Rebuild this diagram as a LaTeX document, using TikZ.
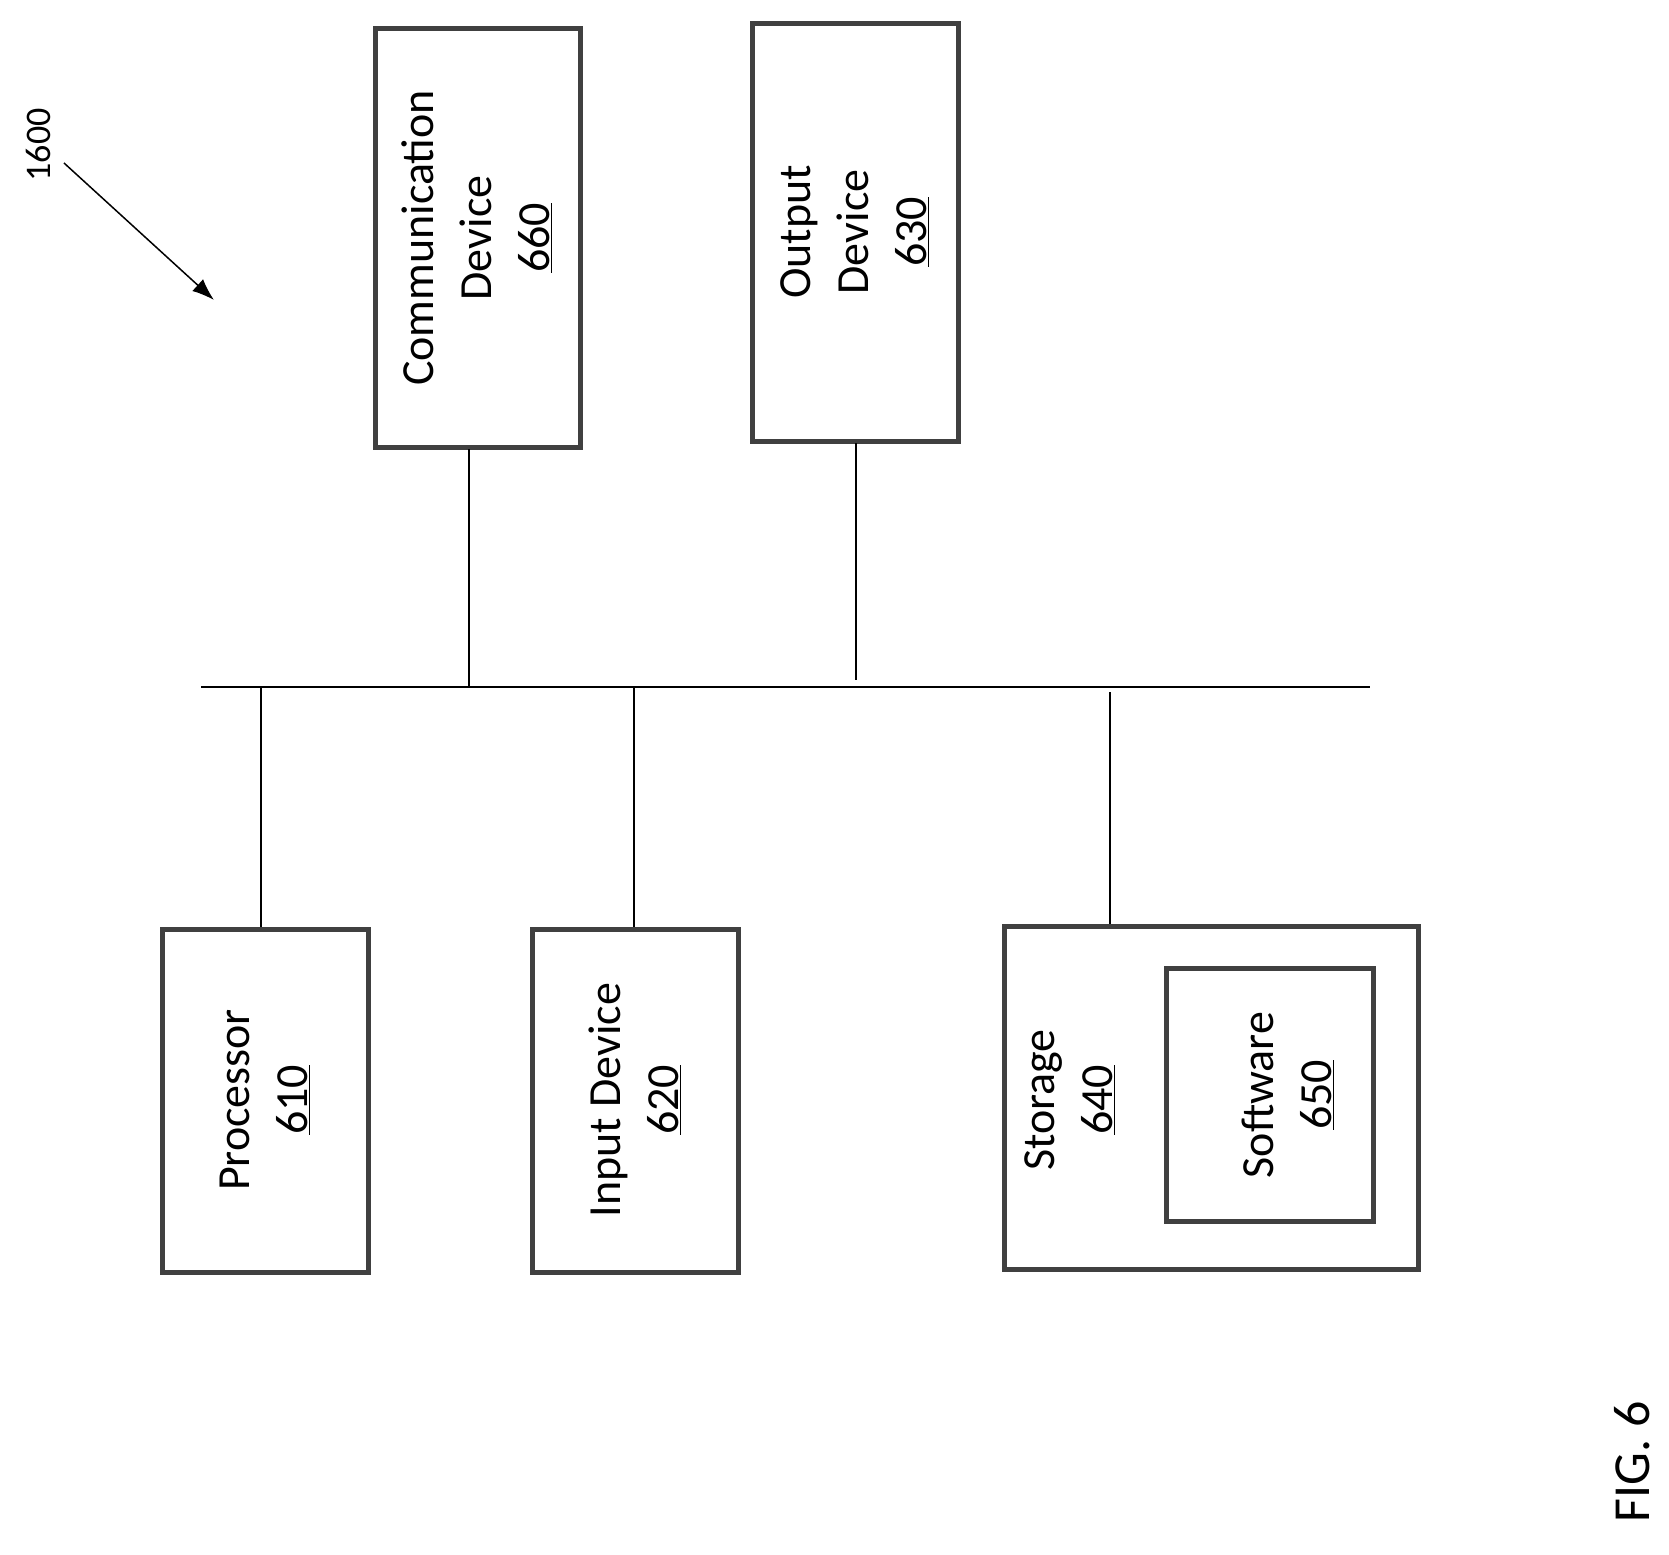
\documentclass[tikz,border=0pt]{standalone}
\usepackage{fontspec}
\setmainfont{Carlito}
\usetikzlibrary{arrows.meta}
\begin{document}
\begin{tikzpicture}[x=1pt,y=-1pt,
  box/.style={draw=black!75,line width=5pt,fill=white},
  lbl/.style={rotate=90,align=center,font=\fontsize{46}{58}\selectfont},
  conn/.style={line width=2pt}]
\useasboundingbox (0,0) rectangle (1669,1554);
\draw[box] (375,29) rectangle (580,447);
\draw[box] (752,24) rectangle (958,441);
\draw[box] (162,929) rectangle (368,1272);
\draw[box] (532,929) rectangle (738,1272);
\draw[box] (1004,926) rectangle (1418,1269);
\draw[box] (1166,968) rectangle (1373,1221);
\node[lbl] (comm) at (477,238) {Communication\\Device\\\underline{660}};
\node[lbl] (out) at (855,232) {Output\\Device\\\underline{630}};
\node[lbl] (proc) at (265,1100) {Processor\\\underline{610}};
\node[lbl] (inp) at (635,1100) {Input Device\\\underline{620}};
\node[lbl] (stor) at (1070,1100) {Storage\\\underline{640}};
\node[lbl] (soft) at (1288,1095) {Software\\\underline{650}};
\coordinate (bl) at (201,687); \coordinate (br) at (1370,687);
\draw[conn] (bl) -- (br);
\coordinate (c1) at (469,449); \coordinate (c1b) at (469,687);
\coordinate (o1) at (856,443); \coordinate (o1b) at (856,680);
\coordinate (p1) at (261,687); \coordinate (p1b) at (261,927);
\coordinate (i1) at (634,687); \coordinate (i1b) at (634,927);
\coordinate (s1) at (1110,692); \coordinate (s1b) at (1110,924);
\draw[conn] (c1) -- (c1b);
\draw[conn] (o1) -- (o1b);
\draw[conn] (p1) -- (p1b);
\draw[conn] (i1) -- (i1b);
\draw[conn] (s1) -- (s1b);
\node[rotate=90,font=\fontsize{36}{40}\selectfont] (ref) at (38,145) {1600};
\coordinate (a1) at (64,163); \coordinate (a2) at (214,300);
\draw[line width=1.5pt,-{Latex[length=22pt,width=16pt]}] (a1) -- (a2);
\node[rotate=90,font=\fontsize{52}{60}\selectfont] (fig) at (1632,1462) {FIG. 6};
\end{tikzpicture}
\end{document}
